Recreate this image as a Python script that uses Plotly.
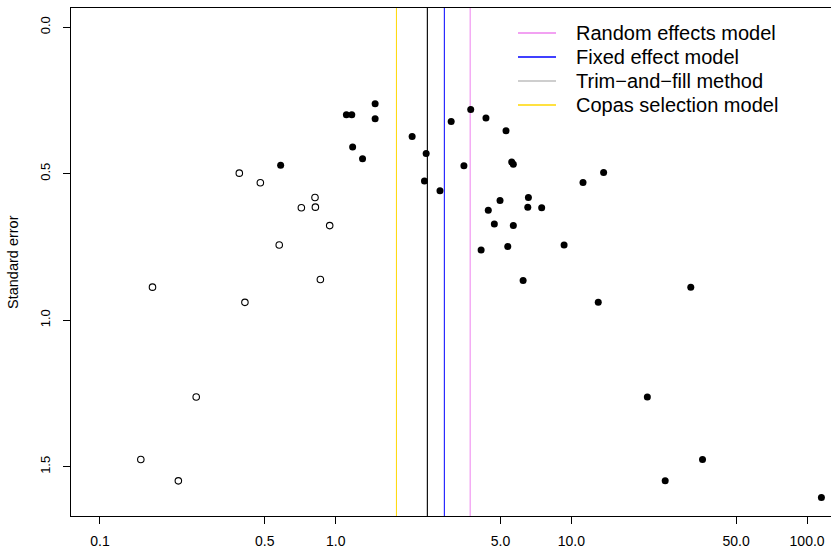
import plotly.graph_objects as go

# Observed studies (odds ratio, standard error)
obs_or = [1.47, 1.11, 1.17, 1.47, 1.18, 1.30, 0.584, 2.11, 3.74, 3.09, 4.34, 5.28,
          2.42, 3.50, 5.58, 5.67, 2.38, 2.77, 11.2, 13.7, 6.57, 4.98, 4.44, 6.53,
          7.48, 4.71, 5.67, 4.14, 5.37, 9.31, 6.24, 13.0, 32.1, 21.0, 36.0, 25.0, 115.0]
obs_se = [0.261, 0.299, 0.299, 0.312, 0.409, 0.449, 0.471, 0.373, 0.281, 0.322, 0.310, 0.353,
          0.431, 0.473, 0.460, 0.468, 0.525, 0.558, 0.530, 0.496, 0.581, 0.591, 0.625, 0.614,
          0.616, 0.672, 0.677, 0.760, 0.748, 0.743, 0.864, 0.939, 0.887, 1.262, 1.475, 1.548, 1.605]

# Imputed (trim-and-fill) studies
fill_or = [0.390, 0.479, 0.817, 0.715, 0.820, 0.943, 0.576, 0.861, 0.167, 0.412, 0.256, 0.149, 0.215]
fill_se = [0.498, 0.531, 0.581, 0.616, 0.614, 0.677, 0.743, 0.861, 0.887, 0.939, 1.262, 1.475, 1.548]

# Pooled estimates
model_names = ["Random effects model", "Fixed effect model", "Trim\u2212and\u2212fill method", "Copas selection model"]
model_values = [3.72, 2.89, 2.44, 1.81]
model_colors = ["#EE82EE", "#0000FF", "#BEBEBE", "#FFD700"]
plot_line_colors = ["#EE82EE", "#0000FF", "#000000", "#FFD700"]

x_ticks = [0.1, 0.5, 1.0, 5.0, 10.0, 50.0, 100.0]
x_ticktext = ["0.1", "0.5", "1.0", "5.0", "10.0", "50.0", "100.0"]
y_ticks = [0.0, 0.5, 1.0, 1.5]
y_ticktext = ["0.0", "0.5", "1.0", "1.5"]

FONT = "Liberation Sans, Arial, Helvetica, sans-serif"

fig = go.Figure()
fig.add_trace(go.Scatter(x=fill_or, y=fill_se, mode="markers", showlegend=False,
                         marker=dict(symbol="circle-open", size=6.5, color="black",
                                     line=dict(width=1.1, color="black"))))
fig.add_trace(go.Scatter(x=obs_or, y=obs_se, mode="markers", showlegend=False,
                         marker=dict(symbol="circle", size=7, color="black",
                                     line=dict(width=0))))

shapes = []
# vertical lines through the plotting region (gray trim-and-fill line with black overlay)
shapes.append(dict(type="line", xref="x", yref="paper", x0=model_values[2], x1=model_values[2],
                   y0=0, y1=1, line=dict(color=model_colors[2], width=1), layer="below"))
for v, c in zip(model_values, plot_line_colors):
    xv = v * 1.004 if c == "#000000" else v
    shapes.append(dict(type="line", xref="x", yref="paper", x0=xv, x1=xv, y0=0, y1=1,
                       line=dict(color=c, width=1), layer="below"))

# legend (manual, like R legend with bty="n")
W, H, L, T, B = 831, 549, 71, 8, 33
pw, ph = W - L, H - T - B
def px2x(px):
    return (px - L) / pw
def py2y(py):
    return (H - B - py) / ph

annotations = []
rows = [33, 57, 81, 105]
for name, col, r in zip(model_names, model_colors, rows):
    shapes.append(dict(type="line", xref="paper", yref="paper", x0=px2x(518), x1=px2x(556),
                       y0=py2y(r), y1=py2y(r), line=dict(color=col, width=1.3)))
    annotations.append(dict(xref="paper", yref="paper", x=px2x(574), y=py2y(r), text=name,
                            showarrow=False, xanchor="left", yanchor="middle",
                            font=dict(family=FONT, size=20, color="black")))

annotations.append(dict(xref="paper", yref="paper", x=px2x(13), y=0.5, text="Standard error",
                        textangle=-90, showarrow=False, xanchor="center", yanchor="middle",
                        font=dict(family=FONT, size=14.5, color="black")))

fig.update_layout(
    width=W, height=H,
    margin=dict(l=L, r=0, t=T, b=B, pad=0, autoexpand=False),
    paper_bgcolor="white", plot_bgcolor="white",
    shapes=shapes, annotations=annotations,
    showlegend=False,
    font=dict(family=FONT, color="black"),
)
fig.update_xaxes(type="log", range=[-1.123, 2.1014], tickvals=x_ticks, ticktext=x_ticktext,
                 ticks="outside", ticklen=7, tickcolor="black", tickwidth=1,
                 showline=True, linecolor="black", linewidth=1, mirror=True,
                 showgrid=False, zeroline=False, ticklabelstandoff=5, automargin=False,
                 tickfont=dict(family=FONT, size=14, color="black"))
fig.update_yaxes(range=[1.668, -0.0655], tickvals=y_ticks, ticktext=y_ticktext,
                 ticks="outside", ticklen=7, tickcolor="black", tickwidth=1, tickangle=-90,
                 showline=True, linecolor="black", linewidth=1, mirror=False,
                 showgrid=False, zeroline=False, ticklabelstandoff=8, automargin=False,
                 tickfont=dict(family=FONT, size=13, color="black"))

fig.write_html("out.html")
